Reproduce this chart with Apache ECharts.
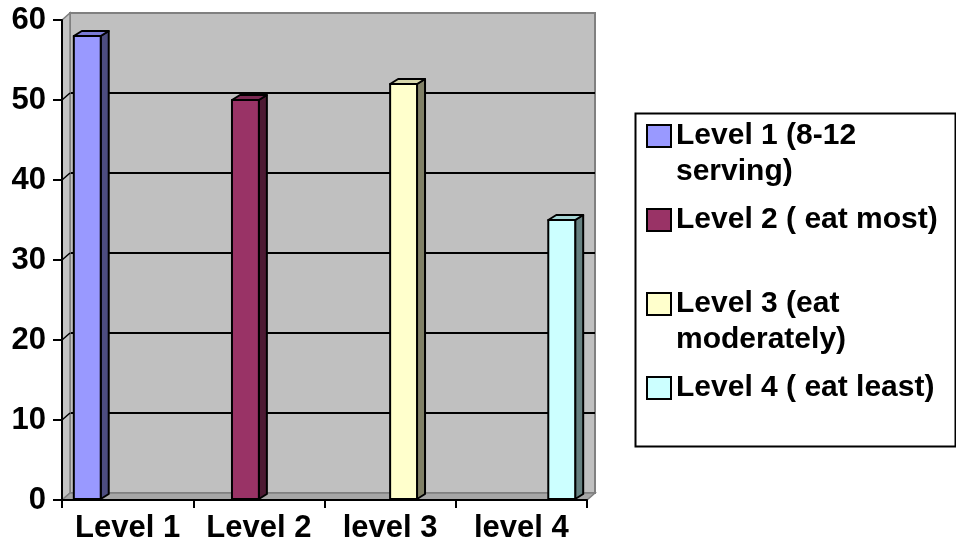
<!DOCTYPE html>
<html><head><meta charset="utf-8">
<script src="https://cdn.jsdelivr.net/npm/echarts@6/dist/echarts.min.js"></script>
<style>html,body{margin:0;padding:0;background:#fff}#c{width:956px;height:550px}</style>
</head><body><div id="c"></div>
<script>
// ---- data ----
const categories = ['Level 1', 'Level 2', 'level 3', 'level 4'];
const seriesNames = ['Level 1 (8-12 serving)', 'Level 2 ( eat most)', 'Level 3 (eat moderately)', 'Level 4 ( eat least)'];
const values = [58, 50, 52, 35];
const yTicks = [0, 10, 20, 30, 40, 50, 60];
const legendWrap = {
  'Level 1 (8-12 serving)': ['Level 1 (8-12', 'serving)'],
  'Level 2 ( eat most)': ['Level 2 ( eat most)', ' '],
  'Level 3 (eat moderately)': ['Level 3 (eat', 'moderately)'],
  'Level 4 ( eat least)': ['Level 4 ( eat least)', ' ']
};
// front, top, side colours
const frontColors = ['#9999FF', '#993366', '#FFFFCC', '#CCFFFF'];
const topColors = ['#7C7CD6', '#7A2952', '#D6D6AB', '#A8D6D6'];
const sideColors = ['#4D4D80', '#4D1A33', '#808066', '#668080'];

const FONT = "'Liberation Sans', Arial, sans-serif";
const WALL_DX = 8, WALL_DY = 7;
const BAR_DX = 8, BAR_DY = 5;

const chart = echarts.init(document.getElementById('c'), null, {renderer: 'canvas'});

function wallsRenderer(params, api) {
  const cs = params.coordSys;
  const x = cs.x, y = cs.y, w = cs.width, h = cs.height;
  const children = [];
  // left wall
  children.push({type: 'polygon', shape: {points: [[x, y], [x + WALL_DX, y - WALL_DY], [x + WALL_DX, y + h - WALL_DY], [x, y + h]]},
    style: {fill: '#C4C4C4', stroke: '#808080', lineWidth: 1.5}});
  // floor
  children.push({type: 'polygon', shape: {points: [[x, y + h], [x + WALL_DX, y + h - WALL_DY], [x + w + WALL_DX, y + h - WALL_DY], [x + w, y + h]]},
    style: {fill: '#A6A6A6', stroke: '#808080', lineWidth: 1.5}});
  // grid lines on the left wall
  yTicks.forEach(function (t, i) {
    if (i === 0 || i === yTicks.length - 1) return;
    const p = api.coord([0, t]);
    children.push({type: 'line', shape: {x1: x, y1: p[1], x2: x + WALL_DX, y2: p[1] - WALL_DY},
      style: {stroke: '#000', lineWidth: 1.5}});
  });
  return {type: 'group', children: children};
}

function barRenderer(level) {
  return function (params, api) {
    const cat = api.value(0), val = api.value(1);
    const band = api.size([1, 0])[0];
    const base = api.coord([cat, 0]);
    const topPt = api.coord([cat, val]);
    const bw = band * 0.205;
    const x = base[0] - 2 * bw + level * bw;
    const yt = topPt[1], yb = base[1] - 1;
    const stroke = {stroke: '#000', lineWidth: 2, lineJoin: 'round'};
    return {type: 'group', children: [
      {type: 'polygon', shape: {points: [[x + bw, yt], [x + bw + BAR_DX, yt - BAR_DY], [x + bw + BAR_DX, yb - BAR_DY], [x + bw, yb]]},
        style: Object.assign({fill: sideColors[level]}, stroke)},
      {type: 'polygon', shape: {points: [[x, yt], [x + BAR_DX, yt - BAR_DY], [x + bw + BAR_DX, yt - BAR_DY], [x + bw, yt]]},
        style: Object.assign({fill: topColors[level]}, stroke)},
      {type: 'rect', shape: {x: x, y: yt, width: bw, height: yb - yt},
        style: Object.assign({fill: frontColors[level]}, stroke)}
    ]};
  };
}

const series = [{
  type: 'custom', name: '__walls', xAxisIndex: 0, yAxisIndex: 0, z: 1, silent: true,
  data: [[0, 0]], renderItem: wallsRenderer
}];
seriesNames.forEach(function (name, i) {
  series.push({
    type: 'custom', name: name, xAxisIndex: 0, yAxisIndex: 0, z: 3,
    itemStyle: {color: frontColors[i]},
    data: [[i, values[i]]],
    renderItem: barRenderer(i)
  });
});

const labelStyle = {fontSize: 31, fontWeight: 'bold', color: '#000', fontFamily: FONT};

chart.setOption({
  animation: false,
  backgroundColor: '#fff',
  grid: [
    {left: 62, right: 369, top: 20, bottom: 50, show: false},
    {left: 70, right: 361, top: 13, bottom: 57, show: true, backgroundColor: '#C0C0C0', borderColor: '#808080', borderWidth: 2}
  ],
  xAxis: [
    {gridIndex: 0, type: 'category', data: categories, z: 5,
      axisLine: {lineStyle: {color: '#000', width: 2}},
      axisTick: {show: true, length: 8, lineStyle: {color: '#000', width: 2}},
      axisLabel: Object.assign({margin: 13, interval: 0, hideOverlap: false}, labelStyle),
      splitLine: {show: false}},
    {gridIndex: 1, type: 'category', data: categories, show: false}
  ],
  yAxis: [
    {gridIndex: 0, type: 'value', min: 0, max: 60, interval: 10, z: 5,
      axisLine: {show: true, lineStyle: {color: '#000', width: 2}},
      axisTick: {show: true, length: 9, lineStyle: {color: '#000', width: 2}},
      axisLabel: Object.assign({margin: 16}, labelStyle),
      splitLine: {show: false}},
    {gridIndex: 1, type: 'value', min: 0, max: 60, interval: 10,
      axisLine: {show: false}, axisTick: {show: false}, axisLabel: {show: false},
      splitLine: {show: true, lineStyle: {width: 2, color: ['rgba(0,0,0,0)', '#000', '#000', '#000', '#000', '#000', 'rgba(0,0,0,0)']}}}
  ],
  legend: {
    data: seriesNames, orient: 'vertical', left: 646, top: 82, padding: 0, itemGap: -24,
    itemWidth: 24, itemHeight: 22, icon: 'rect', selectedMode: false,
    itemStyle: {borderColor: '#000', borderWidth: 2},
    textStyle: {fontSize: 30, fontWeight: 'bold', color: '#000', lineHeight: 36, fontFamily: FONT},
    formatter: function (name) { return ' \n' + legendWrap[name].join('\n'); }
  },
  graphic: [{type: 'rect', left: 633, top: 111, shape: {width: 320, height: 333},
    style: {fill: 'none', stroke: '#000', lineWidth: 2}, silent: true}],
  series: series
});
</script></body></html>
